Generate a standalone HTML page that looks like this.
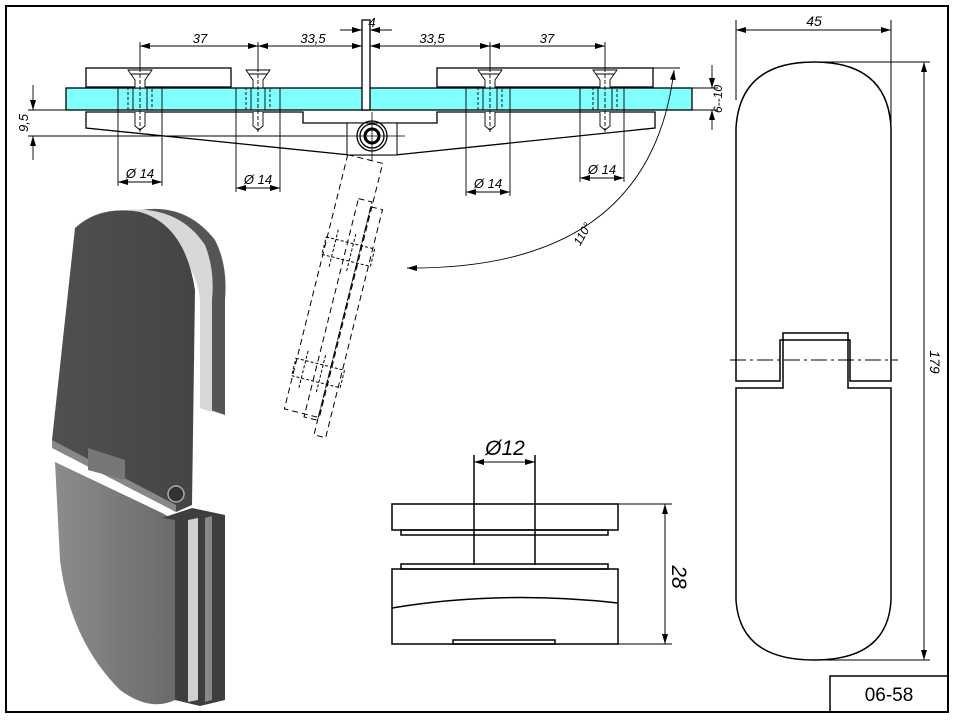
<!DOCTYPE html>
<html><head><meta charset="utf-8"><style>
html,body{margin:0;padding:0;background:#fff;}
svg{display:block;}
text{font-family:"Liberation Sans",sans-serif;font-style:italic;fill:#000;}
</style></head><body>
<svg width="957" height="722" viewBox="0 0 957 722" xmlns="http://www.w3.org/2000/svg">
<defs>
<marker id="a" viewBox="0 0 10 6" refX="10" refY="3" markerWidth="10" markerHeight="6" orient="auto-start-reverse" markerUnits="userSpaceOnUse"><path d="M0,0 L10,3 L0,6z" fill="#000"/></marker>
<linearGradient id="g1" x1="0" x2="1"><stop offset="0" stop-color="#505050"/><stop offset="1" stop-color="#444"/></linearGradient>
<linearGradient id="g2" x1="0" x2="1"><stop offset="0" stop-color="#8c8c8c"/><stop offset="1" stop-color="#6a6a6a"/></linearGradient>
<g id="sc" stroke="#000" stroke-width="0.9" fill="#fff">
<path d="M-12,70 L12,70 L5,80 L5,88 L-5,88 L-5,80 Z"/>
<line x1="-9" y1="74" x2="9" y2="74"/>
<rect x="-7" y="88" width="14" height="22" fill="none"/>
<rect x="-12" y="88" width="24" height="22" fill="none" stroke-dasharray="3,2"/>
<path d="M-5,112 L-5,126 L0,130 L5,126 L5,112"/>
<line x1="0" y1="68" x2="0" y2="132" stroke-dasharray="4,2"/>
</g>
</defs>
<!-- frame -->
<rect x="6" y="6" width="942" height="706" fill="none" stroke="#000" stroke-width="2"/>
<rect x="830" y="676" width="118" height="36" fill="none" stroke="#000" stroke-width="1.5"/>
<text x="889" y="701" font-size="19" text-anchor="middle" style="font-style:normal">06-58</text>

<!-- TOP DRAWING -->
<g stroke="#000" stroke-width="1.3" fill="none">
<rect x="66" y="88" width="626" height="22" fill="#80ffff"/>
<rect x="86" y="68" width="145" height="19" fill="#fff"/>
<rect x="437" y="68" width="216" height="19" fill="#fff"/>
<rect x="362" y="20" width="8" height="90" fill="#fff"/>
<path d="M86,112 L303,112 L303,123 L437,123 L437,112 L655,112 L655,128 L395,155 L350,155 L86,128 Z" fill="#fff"/>
<rect x="347" y="123" width="50" height="32" fill="#fff" stroke-width="1"/>
<circle cx="372" cy="136" r="15"/><circle cx="372" cy="136" r="12"/>
<circle cx="372" cy="136" r="7" stroke-width="3"/>
<line x1="340" y1="136" x2="405" y2="136" stroke-width="0.8"/>
<line x1="372" y1="112" x2="372" y2="160" stroke-width="0.8"/>
</g>
<use href="#sc" x="140"/><use href="#sc" x="258"/><use href="#sc" x="490"/><use href="#sc" x="605"/>
<!-- top dims -->
<g stroke="#000" stroke-width="0.9" fill="none">
<line x1="140" y1="42" x2="140" y2="68"/><line x1="258" y1="42" x2="258" y2="68"/>
<line x1="490" y1="42" x2="490" y2="68"/><line x1="605" y1="42" x2="605" y2="68"/>
<line x1="140" y1="46" x2="258" y2="46" marker-start="url(#a)" marker-end="url(#a)"/>
<line x1="258" y1="46" x2="362" y2="46" marker-start="url(#a)" marker-end="url(#a)"/>
<line x1="370" y1="46" x2="490" y2="46" marker-start="url(#a)" marker-end="url(#a)"/>
<line x1="490" y1="46" x2="605" y2="46" marker-start="url(#a)" marker-end="url(#a)"/>
<line x1="340" y1="30" x2="362" y2="30" marker-end="url(#a)"/><line x1="392" y1="30" x2="370" y2="30" marker-end="url(#a)"/>
<line x1="118" y1="88" x2="118" y2="186"/><line x1="162" y1="88" x2="162" y2="186"/>
<line x1="118" y1="182" x2="162" y2="182" marker-start="url(#a)" marker-end="url(#a)"/>
<line x1="236" y1="88" x2="236" y2="192"/><line x1="280" y1="88" x2="280" y2="192"/>
<line x1="236" y1="188" x2="280" y2="188" marker-start="url(#a)" marker-end="url(#a)"/>
<line x1="466" y1="88" x2="466" y2="196"/><line x1="510" y1="88" x2="510" y2="196"/>
<line x1="466" y1="192" x2="510" y2="192" marker-start="url(#a)" marker-end="url(#a)"/>
<line x1="580" y1="88" x2="580" y2="182"/><line x1="624" y1="88" x2="624" y2="182"/>
<line x1="580" y1="178" x2="624" y2="178" marker-start="url(#a)" marker-end="url(#a)"/>
<line x1="28" y1="110" x2="66" y2="110"/><line x1="28" y1="136" x2="345" y2="136"/>
<line x1="33" y1="85" x2="33" y2="110" marker-end="url(#a)"/><line x1="33" y1="160" x2="33" y2="136" marker-end="url(#a)"/>
<line x1="692" y1="88" x2="718" y2="88"/><line x1="692" y1="110" x2="718" y2="110"/>
<line x1="712" y1="65" x2="712" y2="88" marker-end="url(#a)"/><line x1="712" y1="130" x2="712" y2="110" marker-end="url(#a)"/>
<line x1="653" y1="68" x2="680" y2="68"/>
<path d="M674,70 Q650,270 407,268" marker-start="url(#a)" marker-end="url(#a)"/>
</g>
<g font-size="13">
<text x="200" y="43" text-anchor="middle">37</text>
<text x="313" y="43" text-anchor="middle">33,5</text>
<text x="372" y="27" text-anchor="middle">4</text>
<text x="432" y="43" text-anchor="middle">33,5</text>
<text x="547" y="43" text-anchor="middle">37</text>
<text x="140" y="178" text-anchor="middle">Ø 14</text>
<text x="258" y="184" text-anchor="middle">Ø 14</text>
<text x="488" y="188" text-anchor="middle">Ø 14</text>
<text x="602" y="174" text-anchor="middle">Ø 14</text>
<text transform="translate(28,123) rotate(-90)" text-anchor="middle">9,5</text>
<text transform="translate(722,99) rotate(-90)" text-anchor="middle" font-size="12">6--10</text>
<text transform="translate(586,236) rotate(-60)" text-anchor="middle" font-size="12">110°</text>
</g>
<!-- rotated dashed -->
<g transform="rotate(14 372 136)" stroke="#000" stroke-width="1" fill="none" stroke-dasharray="6,4">
<rect x="353" y="160" width="36" height="262"/>
<rect x="388" y="205" width="12" height="235"/>
<rect x="374" y="200" width="14" height="225"/>
<g stroke-dasharray="3,2"><rect x="352" y="245" width="50" height="18"/><rect x="352" y="370" width="50" height="18"/>
<line x1="362" y1="235" x2="362" y2="275"/><line x1="380" y1="235" x2="380" y2="275"/>
<line x1="362" y1="360" x2="362" y2="400"/><line x1="380" y1="360" x2="380" y2="400"/></g>
</g>

<!-- 3D render -->
<path d="M120,215 Q180,195 215,240 Q228,265 225,300 L225,415 L210,410 L210,300 Q205,250 160,228 Z" fill="#555"/>
<path d="M110,212 Q175,200 205,245 Q215,270 212,300 L212,412 L200,408 L200,300 Q195,255 150,228 Z" fill="#d8d8d8"/>
<path d="M75,228 Q100,205 140,212 Q185,225 195,290 L192,505 L176,512 L52,446 L52,440 Z" fill="url(#g1)"/>
<path d="M52,440 L176,505 L176,512 L52,448 Z" fill="#888"/>
<path d="M88,448 L125,460 L125,480 L88,470 Z" fill="#777"/>
<circle cx="176" cy="494" r="8" fill="#333" stroke="#aaa" stroke-width="1.5"/>
<path d="M55,462 L160,512 L175,520 L175,700 Q150,712 120,690 Q70,640 60,560 Z" fill="url(#g2)"/>
<path d="M162,518 L192,508 L225,515 L225,700 L200,706 L175,700 L175,520 Z" fill="#3e3e3e"/>
<path d="M188,520 L198,518 L198,700 L188,702 Z" fill="#d0d0d0"/>
<path d="M205,518 L212,516 L212,700 L205,702 Z" fill="#888"/>

<!-- bottom center drawing -->
<g stroke="#000" stroke-width="1.5" fill="none">
<rect x="392" y="504" width="226" height="26"/>
<rect x="401" y="530" width="207" height="5"/>
<line x1="474" y1="455" x2="474" y2="565"/><line x1="535" y1="455" x2="535" y2="565"/>
<rect x="401" y="564" width="207" height="5"/>
<rect x="392" y="569" width="226" height="75"/>
<path d="M392,608 Q500,590 618,603"/>
<rect x="453" y="640" width="102" height="4"/>
<g stroke-width="1"><line x1="474" y1="462" x2="535" y2="462" marker-start="url(#a)" marker-end="url(#a)"/>
<line x1="618" y1="504" x2="672" y2="504"/><line x1="618" y1="644" x2="672" y2="644"/>
<line x1="665" y1="504" x2="665" y2="644" marker-start="url(#a)" marker-end="url(#a)"/></g>
</g>
<text x="505" y="455" font-size="21" text-anchor="middle">Ø12</text>
<text transform="translate(672,577) rotate(90)" font-size="21" text-anchor="middle">28</text>

<!-- right drawing -->
<g stroke="#000" stroke-width="1.5" fill="none">
<path d="M736,381 L736,128 Q740,62 814,62 Q888,62 891,128 L891,381 L850,381 L850,340 L780,340 L780,381 Z"/>
<path d="M736,388 L736,600 Q740,660 814,660 Q888,660 891,600 L891,388 L848,388 L848,333 L783,333 L783,388 Z"/>
<g stroke-width="1"><line x1="736" y1="20" x2="736" y2="100"/><line x1="891" y1="20" x2="891" y2="130"/>
<line x1="736" y1="30" x2="891" y2="30" marker-start="url(#a)" marker-end="url(#a)"/>
<line x1="814" y1="62" x2="930" y2="62"/><line x1="814" y1="660" x2="930" y2="660"/>
<line x1="924" y1="62" x2="924" y2="660" marker-start="url(#a)" marker-end="url(#a)"/>
<line x1="730" y1="360" x2="898" y2="360" stroke-dasharray="16,4,3,4"/></g>
</g>
<text x="814" y="26" font-size="14" text-anchor="middle">45</text>
<text transform="translate(930,362) rotate(90)" font-size="14" text-anchor="middle">179</text>
</svg>
</body></html>
